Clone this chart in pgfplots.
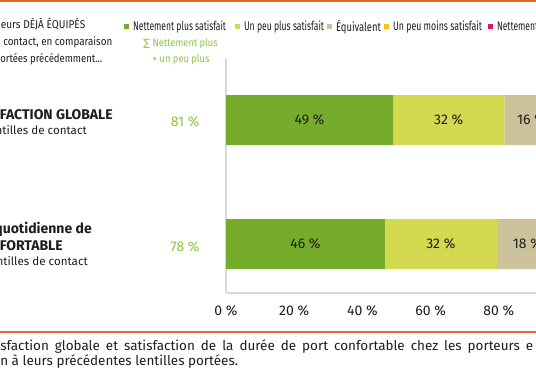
\documentclass[border=0pt]{standalone}
\usepackage{graphicx}
\usepackage{pgfplots}
\pgfplotsset{compat=1.18}
\usepackage{fontspec}
\setmainfont{Fira Sans}
\newfontfamily\condfont{Fira Sans}[FakeStretch=0.88]
\newfontfamily\symfont{DejaVu Sans}
\definecolor{cGreen}{HTML}{76AC2C}
\definecolor{cLime}{HTML}{D3DA4F}
\definecolor{cBeige}{HTML}{CCC29B}
\definecolor{cGold}{HTML}{FFC20E}
\definecolor{cPink}{HTML}{E4135F}
\definecolor{cLight}{HTML}{8CC63F}
\definecolor{cOrange}{HTML}{E8692B}
\definecolor{cText}{HTML}{1E1E1E}
\definecolor{cAxis}{HTML}{D9D9D9}
\newcommand{\legtxt}[3]{\makebox[#1][l]{\resizebox{#2}{\height}{#3}}}
\begin{document}
\begin{tikzpicture}[x=0.75pt,y=0.75pt]
\useasboundingbox (0,0) rectangle (536,386);
\clip (0,0) rectangle (536,386);
\fill[white] (0,0) rectangle (536,386);
% orange rules
\draw[cOrange, line width=1.6pt] (0,385.2) -- (536,385.2);
\draw[cOrange, line width=1.6pt] (0,54) -- (536,54);

\begin{axis}[
  at={(169.5pt,69.75pt)}, anchor=south west,
  scale only axis, width=255.75pt, height=176.25pt,
  xmin=0, xmax=100, ymin=-0.395, ymax=1.5,
  xbar stacked, bar width=37.5pt,
  axis x line*=bottom, axis y line*=left,
  axis line style={cAxis, line width=0.9pt},
  ytick=\empty,
  xtick={0,20,40,60,80,100},
  xticklabels={0 \%,20 \%,40 \%,60 \%,80 \%,100 \%},
  major tick length=0pt,
  xticklabel style={font=\fontsize{10.5}{12}\selectfont, text=cText, anchor=north, inner sep=0pt, yshift=-9.2pt},
  clip=false,
  every axis plot post/.append style={legend image code/.code={\fill[##1] (0pt,-1.9pt) rectangle (3.75pt,1.9pt);}},
  legend style={at={(axis description cs:-0.299,1.134)}, anchor=west, draw=none, fill=none,
    inner sep=0pt, outer sep=0pt, font=\condfont\fontsize{9.3}{10}\selectfont, text=cText,
    nodes={inner sep=0pt},
    /tikz/every odd column/.append style={column sep=3pt},
    /tikz/every even column/.append style={column sep=0pt}},
  legend columns=-1,
]
\addplot[draw=none, fill=cGreen] coordinates {(49,1) (46.6,0)};
\addplot[draw=none, fill=cLime] coordinates {(32.6,1) (32.8,0)};
\addplot[draw=none, fill=cBeige] coordinates {(16,1) (18,0)};
\addplot[draw=none, fill=cGold] coordinates {(2,1) (2,0)};
\addplot[draw=none, fill=cPink] coordinates {(0.4,1) (0.6,0)};
\legend{{\legtxt{76.5pt}{69.75pt}{Nettement plus satisfait}},
        {\legtxt{62.25pt}{60pt}{Un peu plus satisfait}},
        {\legtxt{36pt}{33.75pt}{Équivalent}},
        {\legtxt{71.25pt}{66.75pt}{Un peu moins satisfait}},
        {\legtxt{76.5pt}{75pt}{Nettement moins satisfait}}}
\end{axis}

\begin{axis}[
  at={(169.5pt,69.75pt)}, anchor=south west,
  scale only axis, width=255.75pt, height=176.25pt,
  xmin=0, xmax=100, ymin=-0.395, ymax=1.5,
  hide axis, clip=false,
  every node near coord/.append style={anchor=center, font=\fontsize{10.5}{12}\selectfont, text=cText},
]
\addplot[draw=none, mark=none, nodes near coords, point meta=explicit symbolic]
  coordinates {(24.5,1) [49 \%] (65.3,1) [32 \%] (89.6,1) [16 \%]
               (23.3,0) [46 \%] (63.0,0) [32 \%] (88.4,0) [18 \%]};
\addplot[draw=none, mark=none, nodes near coords, point meta=explicit symbolic,
  every node near coord/.append style={text=cLight}]
  coordinates {(-12,0.984) [81 \%] (-12,-0.024) [78 \%]};
\end{axis}

% header text
\begin{scope}[every node/.style={inner sep=0pt, text=cText, font=\condfont\fontsize{8.5}{10}\selectfont}]
\node[anchor=base west] at (0.5,357.7) {\resizebox{63.4pt}{\height}{eurs DÉJÀ ÉQUIPÉS}};
\node[anchor=base west] at (3,340.5) {\resizebox{81.75pt}{\height}{contact, en comparaison}};
\node[anchor=base west] at (0,323) {\resizebox{76.5pt}{\height}{ortées précédemment...}};
\end{scope}
\begin{scope}[every node/.style={inner sep=0pt, text=cLight, font=\condfont\fontsize{7.9}{10}\selectfont}]
\node[anchor=base] at (180.5,339) {{\symfont\fontsize{7.5}{9}\selectfont∑} Nettement plus};
\node[anchor=base] at (181,323) {+ un peu plus};
\end{scope}

% category labels
\begin{scope}[every node/.style={inner sep=0pt, text=cText}]
\node[anchor=base east, font=\bfseries\fontsize{10.5}{12}\selectfont] at (113,266.5) {FACTION GLOBALE};
\node[anchor=base east, font=\fontsize{8.7}{10}\selectfont] at (87,251.5) {ntilles de contact};
\node[anchor=base east, font=\bfseries\fontsize{10.5}{12}\selectfont] at (92,152.5) {quotidienne de};
\node[anchor=base east, font=\bfseries\fontsize{10.5}{12}\selectfont] at (63,135) {FORTABLE};
\node[anchor=base east, font=\fontsize{8.7}{10}\selectfont] at (88,120) {ntilles de contact};
\end{scope}

% footer
\begin{scope}[every node/.style={inner sep=0pt, text=cText, font=\fontsize{10.1}{12}\selectfont}]
\node[anchor=base west] at (0,35.5) {\makebox[399.75pt][s]{sfaction globale et satisfaction de la durée de port confortable chez les porteurs e}};
\node[anchor=base west] at (0,21) {n à leurs précédentes lentilles portées.};
\end{scope}
\end{tikzpicture}
\end{document}
